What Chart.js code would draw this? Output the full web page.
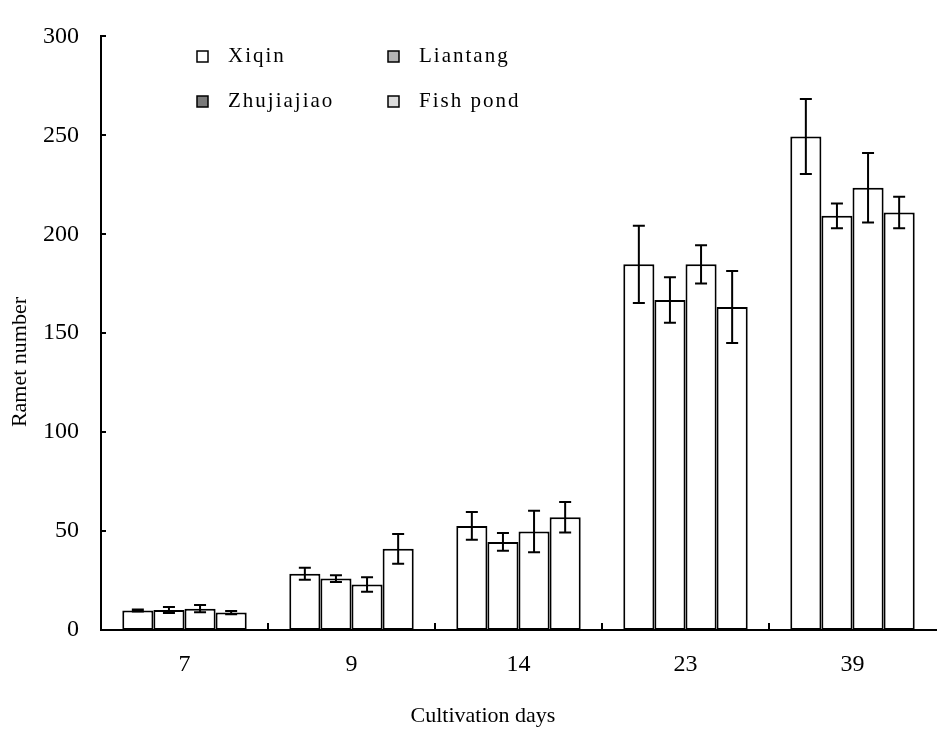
<!DOCTYPE html>
<html>
<head>
<meta charset="utf-8">
<script src="https://cdn.jsdelivr.net/npm/chart.js@4/dist/chart.umd.min.js"></script>
<style>
html, body { margin: 0; padding: 0; background: #fff; }
#wrap { width: 937px; height: 731px; }
</style>
</head>
<body>
<div id="wrap"><canvas id="chart"></canvas></div>
<script>
// data
const days = ["7", "9", "14", "23", "39"];
const seriesNames = ["Xiqin", "Liantang", "Zhujiajiao", "Fish pond"];
const xiqin = [9.8, 28.4, 52.6, 184.8, 249.4];
const xiqinErr = [0.5, 3, 7, 19.5, 19];
const liantang = [10.1, 26, 44.5, 166.8, 209.3];
const liantangErr = [1.5, 1.7, 4.5, 11.5, 6.2];
const zhujiajiao = [10.8, 23, 49.8, 184.8, 223.5];
const zhujiajiaoErr = [1.8, 3.7, 10.5, 9.7, 17.6];
const fishPond = [8.8, 41, 57, 163.2, 211];
const fishPondErr = [0.8, 7.5, 7.7, 18.2, 8];
const yTicks = [0, 50, 100, 150, 200, 250, 300];

// legend swatches as in the original key
const legendFill = ["#ffffff", "#b4b4b4", "#7a7a7a", "#dcdcdc"];
const serif = "'Liberation Serif', 'Times New Roman', serif";

const values = [xiqin, liantang, zhujiajiao, fishPond];
const errors = [xiqinErr, liantangErr, zhujiajiaoErr, fishPondErr];

const datasets = seriesNames.map((name, i) => ({
  label: name,
  data: values[i],
  errors: errors[i],
  backgroundColor: "#ffffff",
  borderColor: "#000000",
  borderWidth: 2,
  borderSkipped: false,
  categoryPercentage: 0.745,
  barPercentage: 1.0
}));

const errorBars = {
  id: "errorBars",
  afterDatasetsDraw(chart) {
    const ctx = chart.ctx;
    const y = chart.scales.y;
    ctx.save();
    ctx.strokeStyle = "#000";
    ctx.lineWidth = 2;
    chart.data.datasets.forEach((ds, di) => {
      const meta = chart.getDatasetMeta(di);
      meta.data.forEach((bar, i) => {
        const v = ds.data[i], e = ds.errors[i];
        const top = y.getPixelForValue(v + e);
        const bot = y.getPixelForValue(v - e);
        ctx.beginPath();
        ctx.moveTo(bar.x, top); ctx.lineTo(bar.x, bot);
        ctx.moveTo(bar.x - 6, top); ctx.lineTo(bar.x + 6, top);
        ctx.moveTo(bar.x - 6, bot); ctx.lineTo(bar.x + 6, bot);
        ctx.stroke();
      });
    });
    ctx.restore();
  }
};

const axisExtras = {
  id: "axisExtras",
  afterDraw(chart) {
    const ctx = chart.ctx;
    const x = chart.scales.x, y = chart.scales.y;
    const area = chart.chartArea;
    ctx.save();
    ctx.strokeStyle = "#000";
    ctx.lineWidth = 2;
    ctx.beginPath();
    // inward ticks between day groups
    for (let i = 1; i < days.length; i++) {
      const px = Math.round(x.getPixelForValue(i - 0.5));
      ctx.moveTo(px, area.bottom);
      ctx.lineTo(px, area.bottom - 7);
    }
    // inward ticks on the value axis
    yTicks.forEach(t => {
      const py = Math.round(y.getPixelForValue(t));
      ctx.moveTo(area.left, py);
      ctx.lineTo(area.left + 5, py);
    });
    ctx.stroke();

    // axis titles
    ctx.fillStyle = "#000";
    ctx.textAlign = "center";
    ctx.textBaseline = "middle";
    ctx.font = "22px " + serif;
    ctx.fillText("Cultivation days", 483, 716);
    ctx.translate(20, 362);
    ctx.rotate(-Math.PI / 2);
    ctx.font = "22px " + serif;
    ctx.fillText("Ramet number", 0, 0);
    ctx.restore();

    // legend: two columns inside the plot
    ctx.save();
    const cols = [197, 388];
    const rows = [56, 101];
    ctx.font = "21px " + serif;
    ctx.letterSpacing = "2px";
    ctx.textAlign = "left";
    ctx.textBaseline = "middle";
    chart.data.datasets.forEach((ds, i) => {
      const bx = cols[i % 2], by = rows[Math.floor(i / 2)];
      ctx.fillStyle = legendFill[i];
      ctx.fillRect(bx, by - 5, 11, 11);
      ctx.strokeStyle = "#000";
      ctx.lineWidth = 1.5;
      ctx.strokeRect(bx, by - 5, 11, 11);
      ctx.fillStyle = "#000";
      ctx.fillText(ds.label, bx + 31, by);
    });
    ctx.restore();
  }
};

new Chart(document.getElementById("chart"), {
  type: "bar",
  data: { labels: days, datasets: datasets },
  options: {
    responsive: true,
    maintainAspectRatio: false,
    animation: false,
    layout: { padding: { top: 18, right: 1, left: 0, bottom: 0 } },
    plugins: {
      legend: { display: false },
      tooltip: { enabled: false }
    },
    scales: {
      x: {
        grid: { display: false, drawTicks: false },
        border: { color: "#000", width: 2 },
        ticks: { color: "#000", font: { family: serif, size: 24 }, padding: 20, maxRotation: 0 },
        afterFit(scale) { scale.height = 101; }
      },
      y: {
        min: 0,
        max: 300,
        grid: { display: false, drawTicks: false },
        border: { color: "#000", width: 2 },
        afterBuildTicks(scale) { scale.ticks = yTicks.map(v => ({ value: v })); },
        ticks: { color: "#000", font: { family: serif, size: 24 }, padding: 22 },
        afterFit(scale) { scale.width = 101; }
      }
    }
  },
  plugins: [errorBars, axisExtras]
});
</script>
</body>
</html>
